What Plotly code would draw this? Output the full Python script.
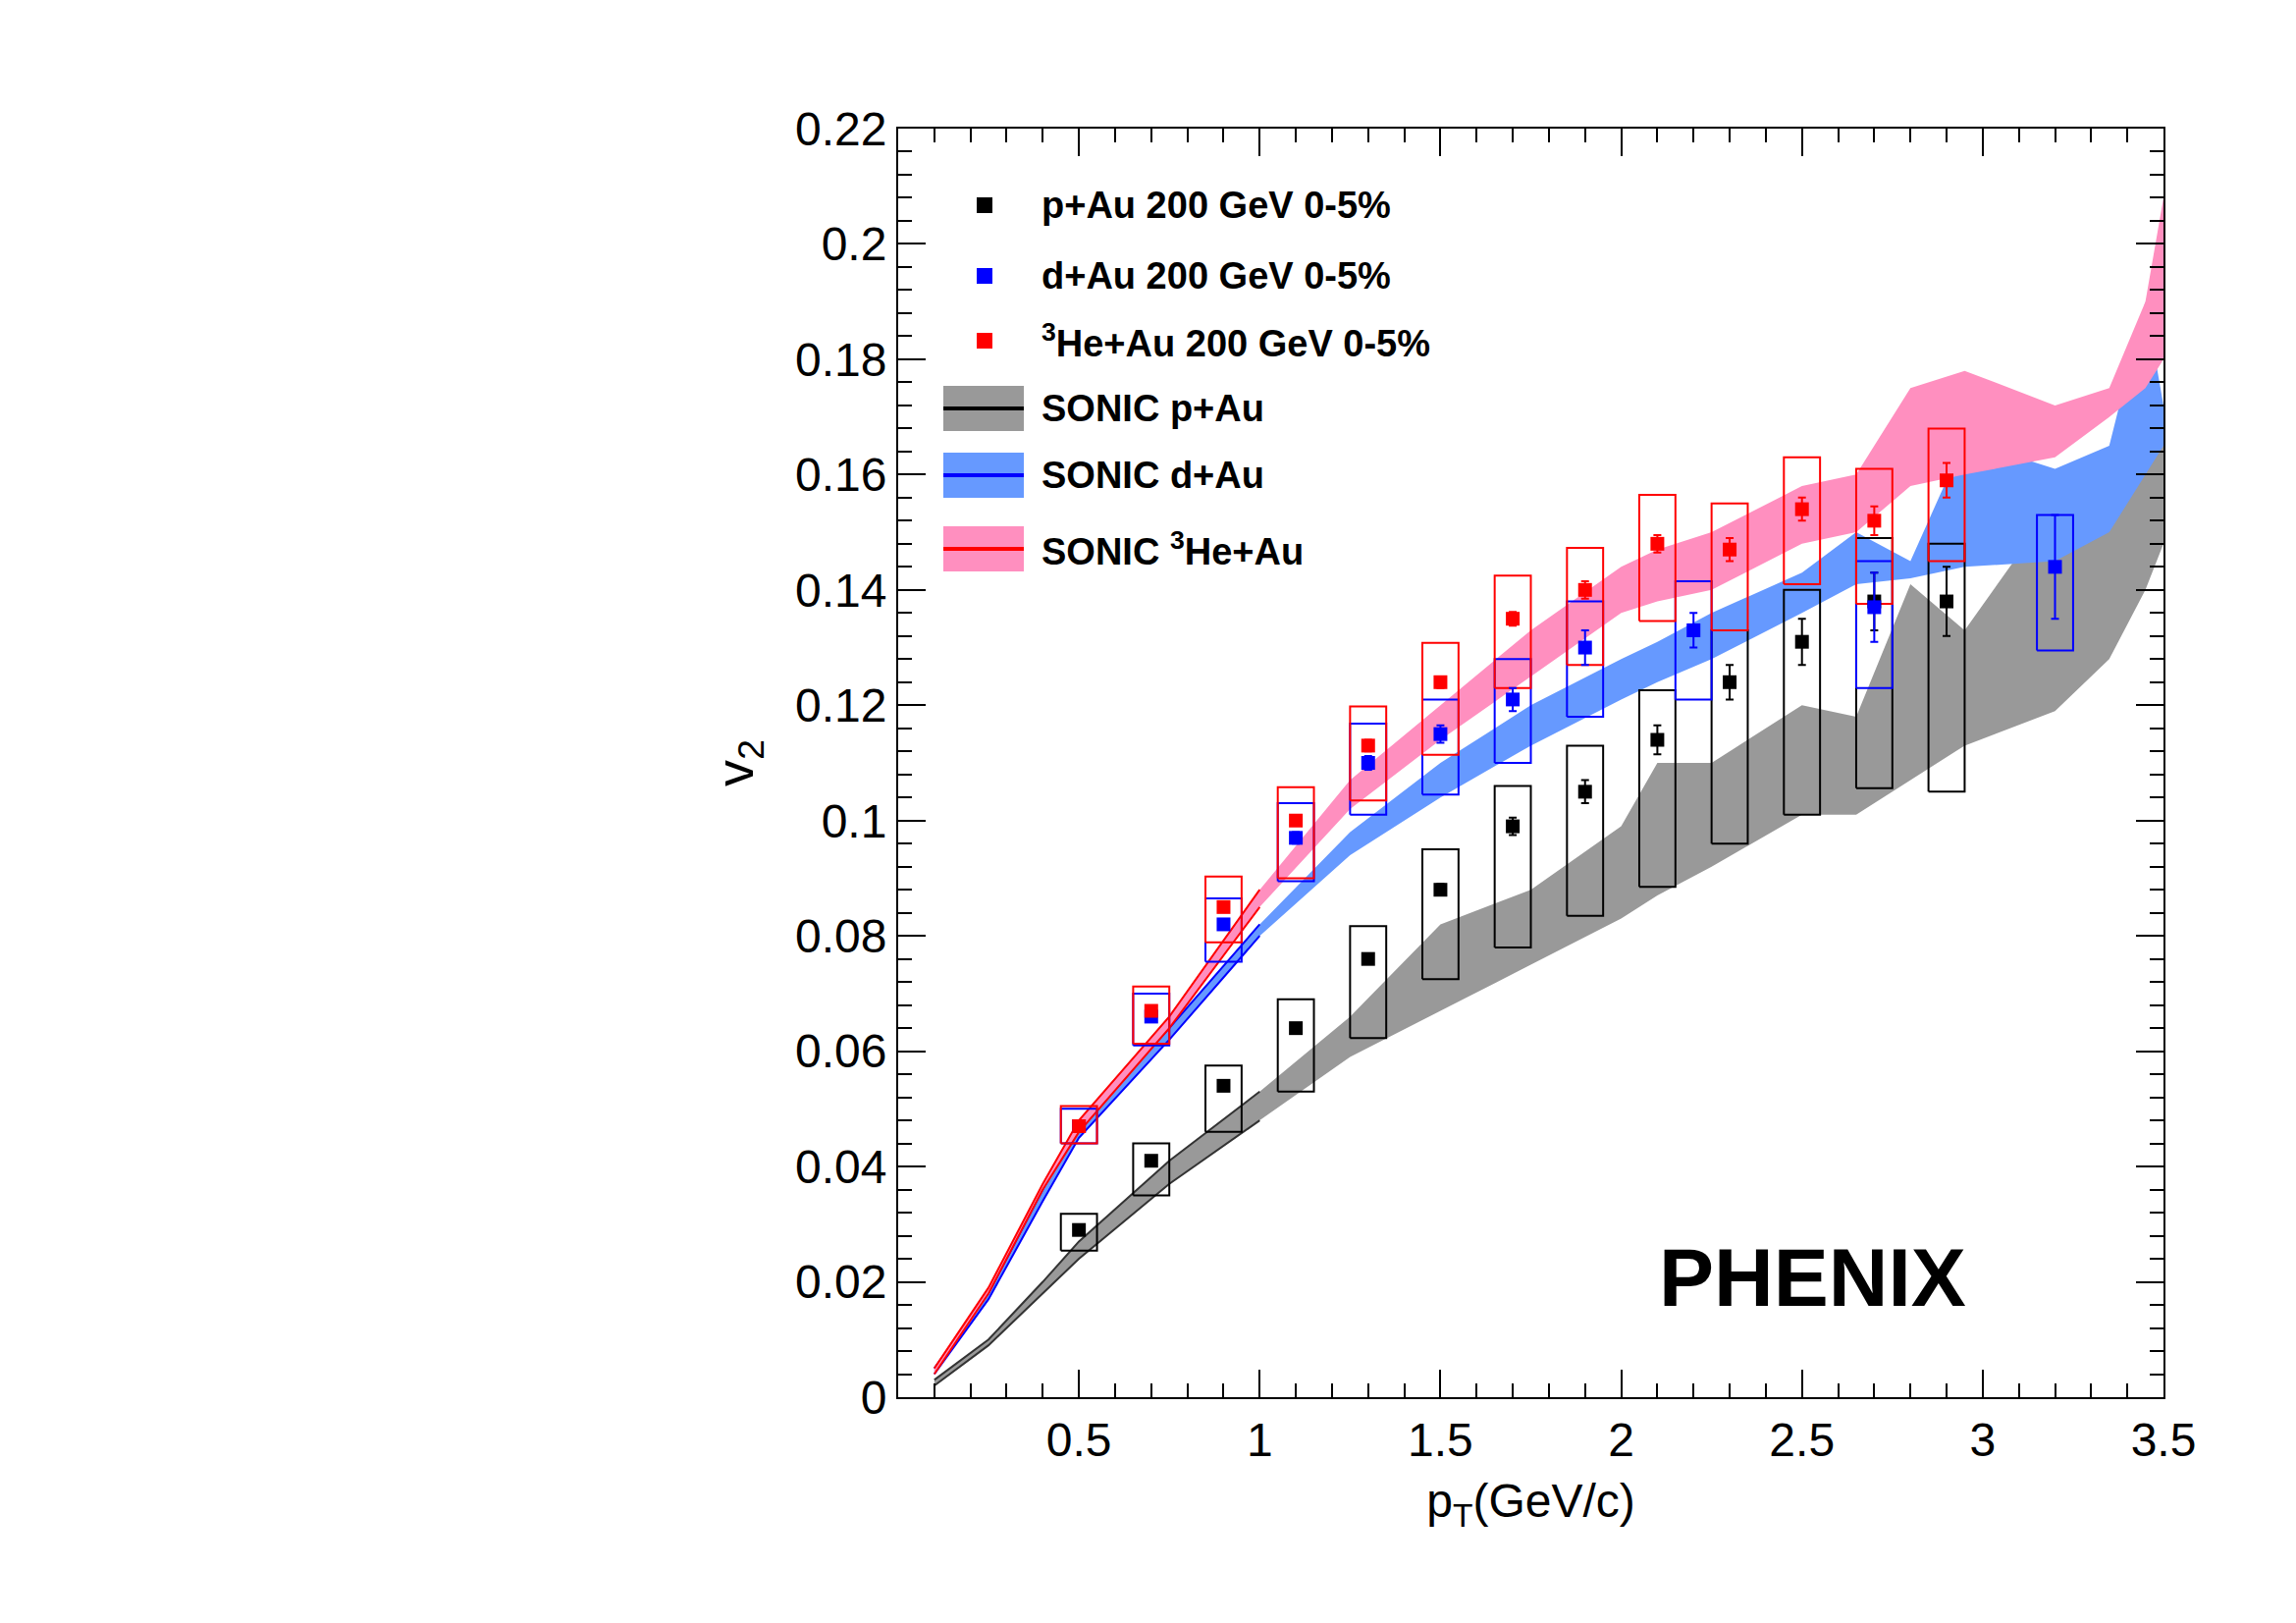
import plotly.graph_objects as go

# ---------------- data ----------------
pau_x = [0.5,0.7,0.9,1.1,1.3,1.5,1.7,1.9,2.1,2.3,2.5,2.7,2.9]
pau_y = [0.029,0.041,0.054,0.064,0.076,0.088,0.099,0.105,0.114,0.124,0.131,0.138,0.138]
pau_stat = [0.0005,0.0005,0.0006,0.0007,0.0008,0.001,0.0015,0.002,0.0025,0.003,0.004,0.005,0.006]
pau_sys_lo = [0.0254,0.035,0.046,0.053,0.0623,0.0725,0.078,0.0835,0.0885,0.096,0.101,0.1056,0.105]
pau_sys_hi = [0.0318,0.044,0.0575,0.069,0.0817,0.095,0.106,0.113,0.1226,0.133,0.140,0.149,0.148]

dau_x = [0.5,0.7,0.9,1.1,1.3,1.5,1.7,1.9,2.2,2.7,3.2]
dau_y = [0.047,0.066,0.082,0.097,0.110,0.115,0.121,0.130,0.133,0.137,0.144]
dau_stat = [0.0005,0.0006,0.0008,0.001,0.0012,0.0015,0.002,0.003,0.003,0.006,0.009]
dau_sys_lo = [0.044,0.061,0.0755,0.0895,0.101,0.1045,0.110,0.118,0.121,0.123,0.1295]
dau_sys_hi = [0.050,0.070,0.0865,0.103,0.1168,0.121,0.128,0.138,0.1415,0.145,0.153]

he_x = [0.5,0.7,0.9,1.1,1.3,1.5,1.7,1.9,2.1,2.3,2.5,2.7,2.9]
he_y = [0.047,0.067,0.085,0.100,0.113,0.124,0.135,0.140,0.148,0.147,0.154,0.152,0.159]
he_stat = [0.0005,0.0006,0.0007,0.0008,0.001,0.001,0.0012,0.0015,0.0015,0.002,0.002,0.0025,0.003]
he_sys_lo = [0.044,0.0613,0.0789,0.090,0.1035,0.1114,0.123,0.127,0.1346,0.133,0.141,0.1376,0.145]
he_sys_hi = [0.0505,0.0712,0.0903,0.1058,0.1198,0.1308,0.1425,0.1473,0.1565,0.155,0.163,0.161,0.168]

band_x = [0.1,0.25,0.4,0.5,0.75,1.0,1.25,1.5,1.75,2.0,2.1,2.25,2.5,2.65,2.8,2.95,3.2,3.35,3.45,3.5]
sonic_pau_lo = [0.002,0.009,0.018,0.024,0.037,0.048,0.059,0.067,0.075,0.083,0.087,0.092,0.101,0.101,0.107,0.113,0.119,0.128,0.140,0.148]
sonic_pau_hi = [0.003,0.010,0.020,0.027,0.041,0.053,0.066,0.082,0.088,0.099,0.110,0.110,0.120,0.118,0.141,0.133,0.155,0.160,0.162,0.170]
sonic_dau_lo = [0.004,0.017,0.034,0.045,0.062,0.080,0.094,0.104,0.113,0.121,0.124,0.128,0.136,0.141,0.142,0.144,0.145,0.150,0.160,0.165]
sonic_dau_hi = [0.005,0.018,0.036,0.047,0.064,0.082,0.098,0.110,0.120,0.128,0.131,0.136,0.143,0.150,0.145,0.166,0.161,0.165,0.190,0.172]
sonic_he_lo = [0.004,0.018,0.036,0.046,0.064,0.085,0.102,0.114,0.125,0.136,0.138,0.140,0.148,0.150,0.158,0.160,0.163,0.170,0.175,0.180]
sonic_he_hi = [0.005,0.019,0.037,0.048,0.066,0.088,0.107,0.120,0.133,0.144,0.147,0.150,0.158,0.160,0.175,0.178,0.172,0.175,0.190,0.208]

x_tickvals = [0.5,1.0,1.5,2.0,2.5,3.0,3.5]
x_ticktext = ["0.5","1","1.5","2","2.5","3","3.5"]
y_tickvals = [0,0.02,0.04,0.06,0.08,0.10,0.12,0.14,0.16,0.18,0.20,0.22]
y_ticktext = ["0","0.02","0.04","0.06","0.08","0.1","0.12","0.14","0.16","0.18","0.2","0.22"]

legend_labels = ["p+Au 200 GeV 0-5%", "d+Au 200 GeV 0-5%", "<sup>3</sup>He+Au 200 GeV 0-5%",
                 "SONIC p+Au", "SONIC d+Au", "SONIC <sup>3</sup>He+Au"]

# ---------------- figure ----------------
fig = go.Figure()

def band(lo, hi, fill, edge):
    fig.add_trace(go.Scatter(x=band_x + band_x[::-1], y=hi + lo[::-1], fill="toself",
                             fillcolor=fill, line=dict(width=0), mode="lines",
                             hoverinfo="skip", showlegend=False))
    n = sum(1 for v in band_x if v <= 1.0)
    for arr in (lo, hi):
        fig.add_trace(go.Scatter(x=band_x[:n], y=arr[:n], mode="lines",
                                 line=dict(color=edge, width=2), showlegend=False))

band(sonic_pau_lo, sonic_pau_hi, "#999999", "#333333")
band(sonic_dau_lo, sonic_dau_hi, "#6699ff", "#0000ff")
band(sonic_he_lo, sonic_he_hi, "#ff8fbf", "#ff0000")

def boxes(xs, lo, hi, color):
    bx, by = [], []
    for x, l, h in zip(xs, lo, hi):
        bx += [x-0.05, x+0.05, x+0.05, x-0.05, x-0.05, None]
        by += [l, l, h, h, l, None]
    fig.add_trace(go.Scatter(x=bx, y=by, mode="lines", line=dict(color=color, width=2),
                             showlegend=False))

def points(xs, ys, err, color):
    fig.add_trace(go.Scatter(x=xs, y=ys, mode="markers",
                             marker=dict(symbol="square", size=14, color=color),
                             error_y=dict(type="data", array=err, color=color, thickness=2, width=4),
                             showlegend=False))

boxes(pau_x, pau_sys_lo, pau_sys_hi, "black")
boxes(dau_x, dau_sys_lo, dau_sys_hi, "#0000ff")
boxes(he_x, he_sys_lo, he_sys_hi, "#ff0000")
points(pau_x, pau_y, pau_stat, "black")
points(dau_x, dau_y, dau_stat, "#0000ff")
points(he_x, he_y, he_stat, "#ff0000")

# ---------------- legend (manual) ----------------
L, R, T, B = 907, 143, 123, 238
PW, PH = 2339 - L - R, 1653 - T - B
def px(x): return (x - L) / PW
def py(y): return (1653 - B - y) / PH
rows = [201, 273, 339, 408, 476, 551]
mcolors = ["black", "#0000ff", "#ff0000"]
for i in range(3):
    y = rows[i]
    fig.add_shape(type="rect", xref="paper", yref="paper", x0=px(987), x1=px(1003),
                  y0=py(y+8), y1=py(y-8), fillcolor=mcolors[i], line=dict(width=0))
swatch = [("#999999", "black"), ("#6699ff", "#0000ff"), ("#ff8fbf", "#ff0000")]
for i in range(3):
    y = rows[i+3]
    fig.add_shape(type="rect", xref="paper", yref="paper", x0=px(953), x1=px(1035),
                  y0=py(y+23), y1=py(y-23), fillcolor=swatch[i][0], line=dict(width=0))
    fig.add_shape(type="line", xref="paper", yref="paper", x0=px(953), x1=px(1035),
                  y0=py(y), y1=py(y), line=dict(color=swatch[i][1], width=4))
for i, t in enumerate(legend_labels):
    fig.add_annotation(xref="paper", yref="paper", x=px(1051), y=py(rows[i]), text="<b>"+t+"</b>",
                       showarrow=False, xanchor="left", yanchor="middle",
                       font=dict(size=38, color="black"))

fig.add_annotation(xref="paper", yref="paper", x=px(1997), y=py(1293), text="<b>PHENIX</b>",
                   showarrow=False, xanchor="right", yanchor="middle",
                   font=dict(size=84, color="black"))

axis_common = dict(showline=True, linecolor="black", linewidth=2, mirror="allticks",
                   ticks="inside", ticklen=28, tickwidth=2, tickcolor="black",
                   showgrid=False, zeroline=False,
                   tickfont=dict(size=48, color="black"))
fig.update_xaxes(range=[0, 3.5], tickvals=x_tickvals, ticktext=x_ticktext,
                 minor=dict(ticks="inside", ticklen=14, tickvals=[i/10 for i in range(1, 35)],
                            tickcolor="black", tickwidth=2),
                 title=dict(text="p<sub>T</sub>(GeV/c)", font=dict(size=48, color="black"), standoff=20),
                 **axis_common)
fig.update_yaxes(range=[0, 0.22], tickvals=y_tickvals, ticktext=y_ticktext,
                 minor=dict(ticks="inside", ticklen=14, tickvals=[i*0.004 for i in range(1, 55)],
                            tickcolor="black", tickwidth=2),
                 title=dict(text="v<sub>2</sub>", font=dict(size=54, color="black"), standoff=25),
                 **axis_common)
fig.update_layout(width=2339, height=1653, margin=dict(l=L, r=R, t=T, b=B),
                  paper_bgcolor="white", plot_bgcolor="white",
                  font=dict(family="Liberation Sans, Arial, sans-serif"), showlegend=False)
fig.write_html("out.html")
